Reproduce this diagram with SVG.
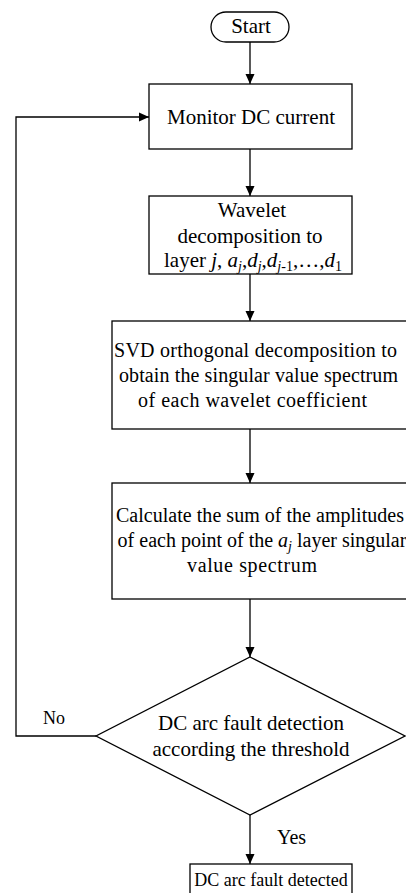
<svg xmlns="http://www.w3.org/2000/svg" width="406" height="893" viewBox="0 0 406 893">
<style>
.box{fill:#fff;stroke:#000;stroke-width:1.3}
.ln{fill:none;stroke:#000;stroke-width:1.3}
text{font-family:"Liberation Serif","Times New Roman",serif;font-size:21px;fill:#000}
.m{text-anchor:middle}
.s{font-size:20px}
.i{font-style:italic}
.sub{font-size:14px}
</style>
<defs>
<marker id="ah" markerWidth="10" markerHeight="10" refX="10" refY="5" orient="auto" markerUnits="userSpaceOnUse">
<path d="M0,0.5 L10,5 L0,9.5 Z" fill="#000"/>
</marker>
</defs>
<rect width="406" height="893" fill="#fff"/>
<g id="connectors">
<line class="ln" x1="250" y1="42" x2="250" y2="84" marker-end="url(#ah)"/>
<line class="ln" x1="250" y1="149" x2="250" y2="196" marker-end="url(#ah)"/>
<line class="ln" x1="250" y1="274" x2="250" y2="321" marker-end="url(#ah)"/>
<line class="ln" x1="250" y1="429" x2="250" y2="483" marker-end="url(#ah)"/>
<line class="ln" x1="250" y1="599" x2="250" y2="657" marker-end="url(#ah)"/>
<line class="ln" x1="250" y1="815" x2="250" y2="864" marker-end="url(#ah)"/>
<polyline class="ln" points="96,736 16,736 16,117 149,117" marker-end="url(#ah)"/>
<text x="43" y="724" style="font-size:18px">No</text>
<text x="277" y="844" style="font-size:20px">Yes</text>
</g>
<g id="start">
<rect class="box" x="211" y="12" width="78" height="30" rx="15" ry="15"/>
<text class="m" x="251" y="33">Start</text>
</g>
<g id="monitor">
<rect class="box" x="149" y="84" width="203" height="65"/>
<text class="m" x="251" y="124">Monitor DC current</text>
</g>
<g id="wavelet">
<rect class="box" x="149" y="196" width="203" height="78"/>
<text class="m" x="252" y="217">Wavelet</text>
<text class="m" x="250" y="243">decomposition to</text>
<text x="164" y="267">layer <tspan class="i">j</tspan>, <tspan class="i">a</tspan><tspan class="i sub" dy="4">j</tspan><tspan dy="-4">,</tspan><tspan class="i">d</tspan><tspan class="i sub" dy="4">j</tspan><tspan dy="-4">,</tspan><tspan class="i">d</tspan><tspan class="sub" dy="4"><tspan class="i">j</tspan>-1</tspan><tspan dy="-4">,…,</tspan><tspan class="i">d</tspan><tspan class="sub" dy="4">1</tspan></text>
</g>
<g id="svd">
<rect class="box" x="112" y="321" width="300" height="108"/>
<text class="m s" x="255.5" y="357" textLength="283" lengthAdjust="spacing">SVD orthogonal decomposition to</text>
<text class="m s" x="258.5" y="382" textLength="279" lengthAdjust="spacing">obtain the singular value spectrum</text>
<text class="m s" x="252.5" y="407" textLength="229" lengthAdjust="spacing">of each wavelet coefficient</text>
</g>
<g id="calc">
<rect class="box" x="112" y="483" width="300" height="116"/>
<text class="m s" x="260" y="522" textLength="288" lengthAdjust="spacing">Calculate the sum of the amplitudes</text>
<text class="m s" x="262" y="547">of each point of the <tspan class="i">a</tspan><tspan class="i sub" dy="4">j</tspan><tspan dy="-4"> layer singular</tspan></text>
<text class="m s" x="252" y="572" textLength="130" lengthAdjust="spacing">value spectrum</text>
</g>
<g id="decision">
<polygon class="box" points="250,657 405,736 250,815 96,736"/>
<text class="m" x="251" y="730">DC arc fault detection</text>
<text class="m" x="251" y="756">according the threshold</text>
</g>
<g id="detected">
<rect class="box" x="190" y="864" width="162" height="40"/>
<text class="m" x="271" y="886" style="font-size:18px">DC arc fault detected</text>
</g>
</svg>
